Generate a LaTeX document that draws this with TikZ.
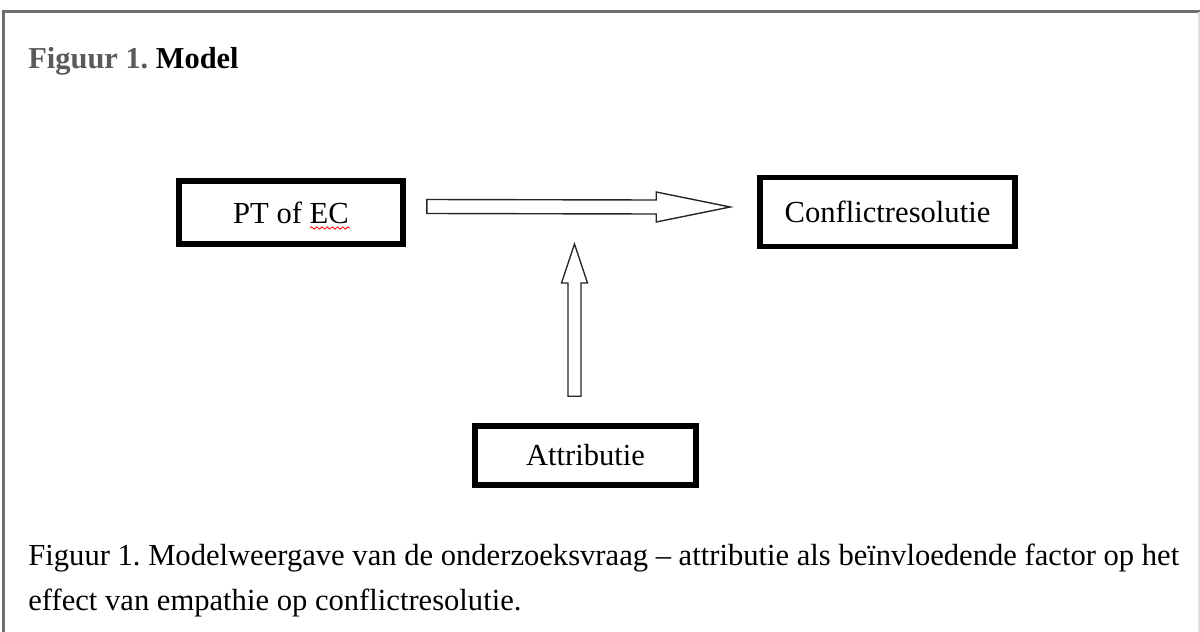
\documentclass[tikz,border=0pt]{standalone}
\usepackage{fontspec}
\setmainfont{Liberation Serif}
\usetikzlibrary{calc,decorations.pathmorphing}
\definecolor{framegray}{HTML}{6E6E6E}
\definecolor{titlegray}{HTML}{5A5A5A}
\definecolor{arrowgray}{HTML}{262626}
\tikzset{
  varbox/.style={draw=black, line width=2.8pt, fill=white, inner sep=0pt,
    font=\fontsize{15.3}{18}\selectfont},
  blockarrow/.style={draw=arrowgray, line width=0.7pt, fill=white, line join=miter},
  captiontext/.style={anchor=base west, inner sep=0pt, font=\fontsize{15.3}{18}\selectfont},
  spellmark/.style={draw=red, line width=0.4pt,
    decorate, decoration={snake, amplitude=0.6pt, segment length=2.6pt}}
}
\frenchspacing
\begin{document}
\begin{tikzpicture}[x=0.5pt,y=-0.5pt]
\useasboundingbox (0,0) rectangle (1200,632);
\fill[white] (0,0) rectangle (1200,632);
% frame
\draw[framegray, line width=1.5pt] (3,632) -- (3,11.5) -- (1200,11.5);
\draw[gray!25, line width=0.6pt] (1199,11.5) -- (1199,632);
% title
\node[captiontext, font=\fontsize{15.2}{18}\selectfont\bfseries\frenchspacing] (title) at (28,68)
  {\textcolor{titlegray}{Figuur 1.} Model};
% boxes
\node[varbox, minimum width=112pt, minimum height=31.5pt] (pt) at (291,212.5) {PT of EC};
\node[varbox, minimum width=127.5pt, minimum height=34.5pt] (cr) at (887.5,212) {Conflictresolutie};
\node[varbox, minimum width=110.5pt, minimum height=29.5pt] (at) at (585.5,455.5) {Attributie};
% spelling underline
\draw[spellmark] (310,228) -- (350,228);
% horizontal block arrow
\coordinate (hs) at ($(pt.east)+(21,-6)$);
\coordinate (ht) at ($(cr.west)+(-27,-5)$);
\draw[blockarrow] ($(hs)+(0,-7)$) -- ($(ht)+(-74,-7)$) -- ($(ht)+(-74,-15)$) -- (ht)
  -- ($(ht)+(-74,15)$) -- ($(ht)+(-74,7)$) -- ($(hs)+(0,7)$) -- cycle;
% vertical block arrow
\coordinate (vs) at ($(at.north)+(-11,-27)$);
\coordinate (vt) at (574.5,244);
\draw[blockarrow] ($(vs)+(-6.5,0)$) -- ($(vt)+(-6.5,39)$) -- ($(vt)+(-13,39)$) -- (vt)
  -- ($(vt)+(13,39)$) -- ($(vt)+(6.5,39)$) -- ($(vs)+(6.5,0)$) -- cycle;
% caption
\node[captiontext] (cap1) at (28,565)
  {Figuur 1. Modelweergave van de onderzoeksvraag – attributie als beïnvloedende factor op het};
\node[captiontext] (cap2) at (28,610) {effect van empathie op conflictresolutie.};
\end{tikzpicture}
\end{document}
